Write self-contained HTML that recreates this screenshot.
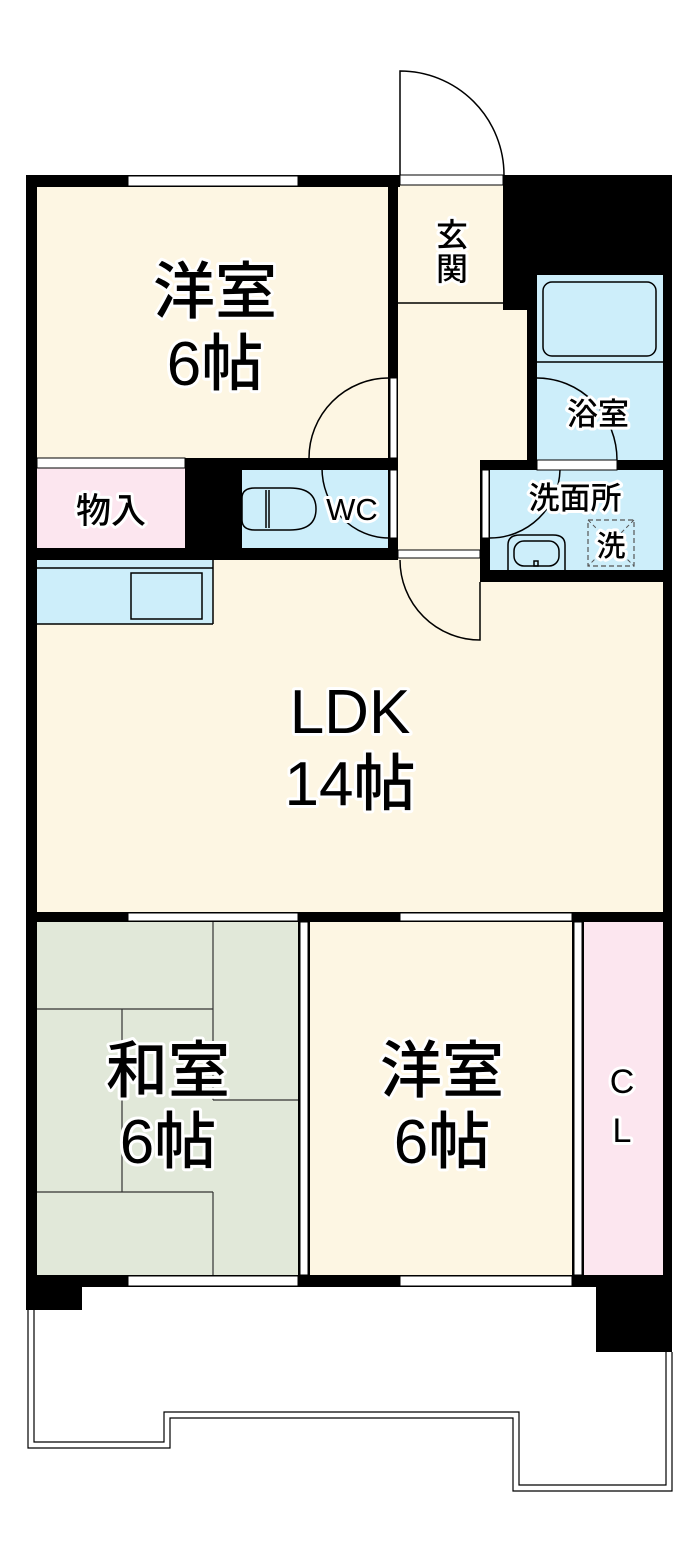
<!DOCTYPE html>
<html><head><meta charset="utf-8"><style>
html,body{margin:0;padding:0;background:#fff;}
svg{display:block;}
text{font-family:"Liberation Sans","Noto Sans CJK JP",sans-serif;fill:#000;stroke:#fff;stroke-width:6px;paint-order:stroke;stroke-linejoin:round;text-anchor:middle;font-weight:500;}
</style></head><body>
<svg width="700" height="1557" viewBox="0 0 700 1557" xmlns="http://www.w3.org/2000/svg">
<!-- floors -->
<rect x="37" y="187" width="352" height="271" fill="#fdf6e3"/>
<rect x="398" y="185" width="105" height="118" fill="#fdf6e3"/>
<rect x="398" y="303" width="129" height="257" fill="#fdf6e3"/>
<rect x="37" y="560" width="626" height="352" fill="#fdf6e3"/>
<rect x="37" y="468" width="148" height="80" fill="#fce6ef"/>
<rect x="242" y="470" width="147" height="78" fill="#cdeefa"/>
<rect x="537" y="275" width="126" height="185" fill="#cdeefa"/>
<rect x="490" y="470" width="173" height="100" fill="#cdeefa"/>
<rect x="37" y="560" width="176" height="64" fill="#cdeefa"/>
<rect x="37" y="922" width="261" height="353" fill="#e1e8d9"/>
<rect x="310" y="922" width="262" height="353" fill="#fdf6e3"/>
<rect x="584" y="922" width="79" height="353" fill="#fce6ef"/>

<!-- walls -->
<g fill="#000">
<rect x="26" y="175" width="11" height="1112"/>
<rect x="26" y="175" width="374" height="12"/>
<rect x="503" y="175" width="169" height="100"/>
<rect x="503" y="275" width="34" height="35"/>
<rect x="527" y="275" width="10" height="195"/>
<rect x="663" y="175" width="9" height="1112"/>
<rect x="388" y="175" width="10" height="385"/>
<rect x="185" y="458" width="213" height="12"/>
<rect x="185" y="458" width="57" height="90"/>
<rect x="26" y="548" width="372" height="12"/>
<rect x="480" y="460" width="192" height="10"/>
<rect x="480" y="460" width="10" height="122"/>
<rect x="480" y="570" width="192" height="12"/>
<rect x="26" y="912" width="646" height="10"/>
<rect x="298" y="912" width="12" height="375"/>
<rect x="572" y="912" width="12" height="375"/>
<rect x="26" y="1275" width="646" height="12"/>
<rect x="26" y="1275" width="56" height="35"/>
<rect x="596" y="1275" width="76" height="77"/>
</g>

<!-- windows / openings -->
<g fill="#fff" stroke="#000" stroke-width="1">
<rect x="128" y="176" width="170" height="10"/>
<rect x="400" y="175" width="103" height="10"/>
<rect x="37" y="458" width="148" height="10"/>
<rect x="390" y="378" width="7" height="80"/>
<rect x="390" y="470" width="7" height="68"/>
<rect x="398" y="550" width="82" height="8"/>
<rect x="537" y="460" width="80" height="10"/>
<rect x="482" y="470" width="7" height="68"/>
<rect x="128" y="913" width="170" height="8"/>
<rect x="400" y="913" width="172" height="8"/>
<rect x="128" y="1276" width="170" height="10"/>
<rect x="400" y="1276" width="172" height="10"/>
<rect x="300" y="922" width="8" height="353"/>
<rect x="574" y="922" width="8" height="353"/>
</g>

<!-- lines -->
<g fill="none" stroke="#000" stroke-width="1.5">
<path d="M400 175 L400 71 A104 104 0 0 1 504 175"/>
<line x1="398" y1="303" x2="503" y2="303"/>
<path d="M389 378 A80 80 0 0 0 309 458"/>
<path d="M322 468 A67 70 0 0 0 389 538"/>
<path d="M400 560 A80 80 0 0 0 480 640 L480 582"/>
<rect x="543" y="282" width="113" height="74" rx="9"/>
<line x1="537" y1="362" x2="663" y2="362"/>
<path d="M537 378 A80 82 0 0 1 617 460"/>
<path d="M560 470 A70 70 0 0 1 490 538"/>
<path d="M508 570 L508 545 Q508 535 520 535 L553 535 Q565 535 565 545 L565 570"/>
<rect x="514" y="541" width="45" height="25" rx="10"/>
<rect x="534" y="561" width="4" height="5"/>
<line x1="37" y1="568" x2="213" y2="568"/>
<rect x="131" y="573" width="71" height="46"/>
<line x1="213" y1="560" x2="213" y2="624"/>
<line x1="37" y1="624" x2="213" y2="624"/>
<path d="M255 488 L290 488 Q316 488 316 509 Q316 530 290 530 L255 530 Q242 530 242 520 L242 498 Q242 488 255 488 Z"/>
<line x1="266" y1="490" x2="266" y2="528"/>
<line x1="269" y1="490" x2="269" y2="528"/>
</g>
<rect x="588" y="520" width="46" height="46" fill="none" stroke="#555" stroke-width="1.2" stroke-dasharray="5,3"/>
<g stroke="#555" stroke-width="1" stroke-dasharray="4,3"><line x1="588" y1="520" x2="634" y2="566"/><line x1="634" y1="520" x2="588" y2="566"/></g>

<!-- tatami -->
<g stroke="#333" stroke-width="1.2" fill="none">
<line x1="213" y1="922" x2="213" y2="1100"/>
<line x1="213" y1="1192" x2="213" y2="1275"/>
<line x1="37" y1="1009" x2="213" y2="1009"/>
<line x1="213" y1="1100" x2="298" y2="1100"/>
<line x1="37" y1="1192" x2="213" y2="1192"/>
<line x1="122" y1="1009" x2="122" y2="1192"/>
</g>

<!-- balcony -->
<g fill="none" stroke="#000" stroke-width="1.2">
<path d="M28 1287 L28 1448 L170 1448 L170 1418 L513 1418 L513 1491 L672 1491 L672 1352"/>
<path d="M34 1287 L34 1442 L164 1442 L164 1412 L519 1412 L519 1485 L666 1485 L666 1352"/>
</g>

<!-- labels -->
<text x="215" y="313" font-size="62">洋室</text>
<text x="215" y="385" font-size="62">6帖</text>
<text x="452" y="246" font-size="32">玄</text>
<text x="452" y="280" font-size="32">関</text>
<text x="598" y="425" font-size="31">浴室</text>
<text x="575" y="509" font-size="31">洗面所</text>
<text x="611" y="556" font-size="29">洗</text>
<text x="111" y="523" font-size="35">物入</text>
<text x="352" y="520" font-size="31">WC</text>
<text x="350" y="733" font-size="62">LDK</text>
<text x="350" y="805" font-size="62">14帖</text>
<text x="168" y="1092" font-size="62">和室</text>
<text x="168" y="1163" font-size="62">6帖</text>
<text x="442" y="1092" font-size="62">洋室</text>
<text x="442" y="1163" font-size="62">6帖</text>
<text x="622" y="1093" font-size="34">C</text>
<text x="622" y="1142" font-size="34">L</text>
</svg>
</body></html>
